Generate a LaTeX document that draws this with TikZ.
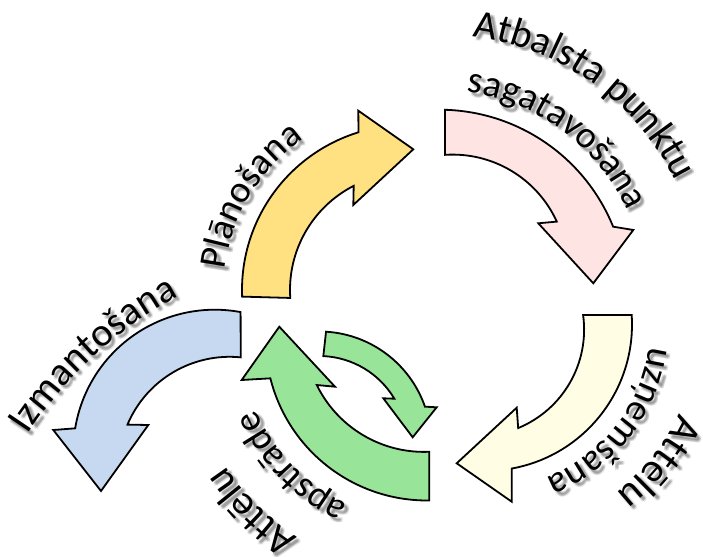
\documentclass[tikz,border=0pt]{standalone}
\usepackage{fontspec}
\setmainfont{Carlito}
\usetikzlibrary{decorations.text}

\definecolor{yellowfill}{RGB}{255,225,130}
\definecolor{pinkfill}{RGB}{255,228,228}
\definecolor{creamfill}{RGB}{255,253,228}
\definecolor{bluefill}{RGB}{198,217,240}
\definecolor{greenfill}{RGB}{152,228,152}
\definecolor{shadowgray}{RGB}{70,70,70}

\tikzset{
  arrowbody/.style={draw=black, line width=1.8pt, line join=miter},
}

% label set on a clockwise circular baseline, with a soft drop shadow
% #1,#2 centre  #3 baseline radius  #4 middle angle  #5 font size  #6 text
\newcommand\arclabel[6]{%
  \foreach \sx/\sy in {2.5/-2.5,4.5/-4.5,2.5/-4.5,4.5/-2.5,3.5/-3.5}{%
    \begin{scope}[shift={(\sx pt,\sy pt)}, opacity=0.15]
      \path[decorate, decoration={text along path, text align=center,
        text={|\fontsize{#5}{#5}\selectfont\color{shadowgray}|#6}}]
        ([shift={(#4+80:#3pt)}]#1,#2) arc[start angle=#4+80, end angle=#4-80, radius=#3pt];
    \end{scope}}%
  \path[decorate, decoration={text along path, text align=center,
      text={|\fontsize{#5}{#5}\selectfont|#6}}]
    ([shift={(#4+80:#3pt)}]#1,#2) arc[start angle=#4+80, end angle=#4-80, radius=#3pt];
}

\begin{document}
\begin{tikzpicture}[x=1pt, y=1pt]
  \fill[white] (0,0) rectangle (703,556);
  \useasboundingbox (0,0) rectangle (703,556);

  % centres of the curved arrows
  \coordinate (yc) at (407,266);
  \coordinate (po) at (439.4,258.8);
  \coordinate (pi) at (452.6,286.9);
  \coordinate (co) at (485.6,231.5);
  \coordinate (ci) at (477.6,226.4);
  \coordinate (bo) at (214.8,104.8);
  \coordinate (bi) at (229.7,88.2);
  \coordinate (go) at (427,217);
  \coordinate (gi) at (424,223.5);
  \coordinate (sc) at (319.2,112.5);

  % Planning
  \draw[arrowbody, fill=yellowfill]
    ([shift={(182.3:165pt)}]yc) arc[start angle=182.3, end angle=107.1, radius=165pt]
    -- (358.3,445.3) -- (413.3,406.7) -- (353.3,351)
    -- ([shift={(117.1:117pt)}]yc) arc[start angle=117.1, end angle=183.9, radius=117pt] -- cycle;

  % Control point preparation
  \draw[arrowbody, fill=pinkfill]
    ([shift={(88.3:187.5pt)}]po) arc[start angle=88.3, end angle=22.1, radius=187.5pt]
    -- (633.3,326) -- (593.3,272.7) -- (538.3,332.7)
    -- ([shift={(24.5:114.5pt)}]pi) arc[start angle=24.5, end angle=93.8, radius=114.5pt] -- cycle;

  % Image capture
  \draw[arrowbody, fill=creamfill]
    ([shift={(3.7:146.4pt)}]co) arc[start angle=3.7, end angle=-79.7, radius=146.4pt]
    -- (511.7,54.3) -- (456.7,92.7) -- (516.7,148.3)
    -- ([shift={(-67.6:106.5pt)}]ci) arc[start angle=-67.6, end angle=7.9, radius=106.5pt] -- cycle;

  % Use
  \draw[arrowbody, fill=bluefill]
    ([shift={(79.5:141.5pt)}]bo) arc[start angle=79.5, end angle=170.7, radius=141.5pt]
    -- (53.3,126) -- (101,65) -- (148.3,131)
    -- ([shift={(157.1:111pt)}]bi) arc[start angle=157.1, end angle=84.3, radius=111pt] -- cycle;

  % Image processing: large arrow
  \draw[arrowbody, fill=greenfill]
    ([shift={(-89.2:161.5pt)}]go) arc[start angle=-89.2, end angle=-165.9, radius=161.5pt]
    -- (241.7,176) -- (279.3,229.3) -- (335,169.3)
    -- ([shift={(-153.9:119.4pt)}]gi) arc[start angle=-153.9, end angle=-87.5, radius=119.4pt] -- cycle;

  % Image processing: small arrow
  \draw[arrowbody, fill=greenfill]
    ([shift={(86.5:112pt)}]sc) arc[start angle=86.5, end angle=19.2, radius=112pt]
    -- (436.7,148.7) -- (412.7,118.7) -- (383.3,157.7)
    -- ([shift={(30.8:87.5pt)}]sc) arc[start angle=30.8, end angle=87.3, radius=87.5pt] -- cycle;

  % labels
  \arclabel{407}{266}{183}{149}{38}{Plānošana}
  \arclabel{439.4}{258.8}{263}{54.5}{40}{Atbalsta punktu}
  \arclabel{439.4}{258.8}{207}{53.5}{38}{sagatavošana}
  \arclabel{485.6}{231.5}{165}{-38}{38}{uzņemšana}
  \arclabel{485.6}{231.5}{213}{-38.5}{41}{Attēlu}
  \arclabel{426}{219}{185}{224}{38}{apstrāde}
  \arclabel{426}{219}{238}{225}{41}{Attēlu}
  \arclabel{377.6}{-108.7}{419}{132.5}{40}{Izmantošana}
\end{tikzpicture}
\end{document}
